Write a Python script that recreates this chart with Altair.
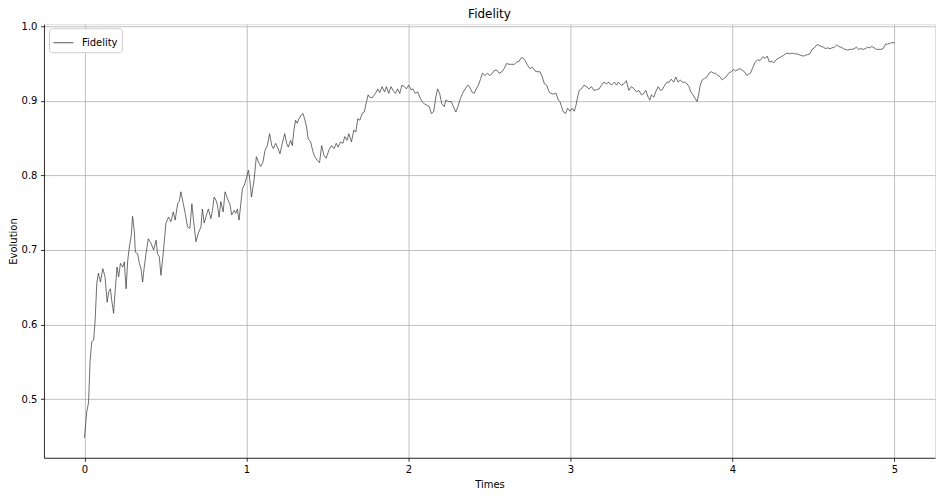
import altair as alt
import pandas as pd

times = [
    0.000, 0.014, 0.025, 0.035, 0.045, 0.057, 0.066, 0.076, 0.086, 0.099,
    0.113, 0.127, 0.140, 0.150, 0.160, 0.168, 0.180, 0.189, 0.201, 0.211,
    0.222, 0.236, 0.246, 0.257, 0.267, 0.277, 0.288, 0.297, 0.308, 0.314,
    0.328, 0.339, 0.349, 0.359, 0.369, 0.380, 0.394, 0.411, 0.427, 0.442,
    0.451, 0.462, 0.472, 0.486, 0.503, 0.519, 0.534, 0.548, 0.560, 0.575,
    0.585, 0.595, 0.610, 0.622, 0.636, 0.651, 0.663, 0.673, 0.688, 0.702,
    0.719, 0.728, 0.739, 0.753, 0.765, 0.780, 0.790, 0.800, 0.811, 0.821,
    0.831, 0.842, 0.856, 0.868, 0.882, 0.897, 0.909, 0.924, 0.934, 0.944,
    0.954, 0.965, 0.975, 0.987, 0.999, 1.012, 1.020, 1.031, 1.047, 1.061,
    1.078, 1.088, 1.102, 1.115, 1.129, 1.143, 1.156, 1.166, 1.180, 1.195,
    1.207, 1.221, 1.236, 1.248, 1.258, 1.273, 1.283, 1.293, 1.303, 1.313,
    1.324, 1.338, 1.349, 1.361, 1.371, 1.381, 1.396, 1.410, 1.422, 1.437,
    1.451, 1.464, 1.478, 1.492, 1.509, 1.525, 1.541, 1.554, 1.566, 1.581,
    1.595, 1.607, 1.621, 1.632, 1.648, 1.663, 1.675, 1.687, 1.700, 1.714,
    1.727, 1.738, 1.751, 1.765, 1.780, 1.796, 1.810, 1.823, 1.837, 1.852,
    1.864, 1.878, 1.892, 1.905, 1.919, 1.933, 1.946, 1.960, 1.975, 1.987,
    2.001, 2.015, 2.028, 2.042, 2.057, 2.069, 2.083, 2.098, 2.114, 2.129,
    2.141, 2.155, 2.169, 2.180, 2.192, 2.206, 2.221, 2.231, 2.248, 2.264,
    2.278, 2.292, 2.305, 2.320, 2.334, 2.350, 2.365, 2.377, 2.391, 2.406,
    2.418, 2.432, 2.446, 2.457, 2.473, 2.488, 2.500, 2.514, 2.531, 2.545,
    2.560, 2.576, 2.590, 2.606, 2.621, 2.637, 2.654, 2.668, 2.683, 2.693,
    2.705, 2.720, 2.734, 2.751, 2.765, 2.781, 2.796, 2.812, 2.826, 2.839,
    2.853, 2.868, 2.880, 2.894, 2.911, 2.925, 2.935, 2.945, 2.956, 2.970,
    2.982, 2.997, 3.011, 3.023, 3.034, 3.044, 3.054, 3.068, 3.083, 3.099,
    3.114, 3.130, 3.145, 3.161, 3.177, 3.191, 3.206, 3.222, 3.237, 3.253,
    3.270, 3.284, 3.294, 3.315, 3.331, 3.345, 3.360, 3.376, 3.393, 3.407,
    3.422, 3.438, 3.453, 3.465, 3.479, 3.490, 3.499, 3.514, 3.526, 3.541,
    3.555, 3.567, 3.582, 3.596, 3.608, 3.622, 3.637, 3.650, 3.664, 3.678,
    3.690, 3.705, 3.719, 3.732, 3.742, 3.756, 3.770, 3.781, 3.791, 3.801,
    3.813, 3.828, 3.842, 3.855, 3.869, 3.884, 3.896, 3.910, 3.924, 3.937,
    3.947, 3.961, 3.976, 3.992, 4.007, 4.019, 4.033, 4.047, 4.060, 4.074,
    4.089, 4.101, 4.111, 4.126, 4.140, 4.156, 4.170, 4.187, 4.201, 4.214,
    4.228, 4.243, 4.255, 4.269, 4.284, 4.300, 4.315, 4.327, 4.341, 4.355,
    4.368, 4.382, 4.397, 4.409, 4.423, 4.438, 4.450, 4.464, 4.478, 4.491,
    4.505, 4.520, 4.532, 4.546, 4.561, 4.573, 4.587, 4.602, 4.614, 4.629,
    4.643, 4.655, 4.669, 4.684, 4.696, 4.711, 4.725, 4.737, 4.751, 4.766,
    4.778, 4.792, 4.807, 4.820, 4.834, 4.848, 4.860, 4.875, 4.889, 4.901,
    4.916, 4.930, 4.945, 4.957, 4.971, 4.983, 5.000,
]

fidelity = [
    0.448, 0.483, 0.495, 0.552, 0.577, 0.579, 0.606, 0.655, 0.669, 0.657,
    0.675, 0.664, 0.630, 0.644, 0.648, 0.633, 0.615, 0.644, 0.677, 0.664,
    0.682, 0.677, 0.684, 0.648, 0.686, 0.704, 0.718, 0.745, 0.724, 0.697,
    0.695, 0.682, 0.675, 0.657, 0.677, 0.695, 0.715, 0.709, 0.700, 0.713,
    0.695, 0.691, 0.666, 0.695, 0.736, 0.744, 0.738, 0.751, 0.740, 0.762,
    0.765, 0.778, 0.762, 0.749, 0.731, 0.729, 0.762, 0.740, 0.711, 0.722,
    0.731, 0.755, 0.736, 0.747, 0.755, 0.742, 0.753, 0.771, 0.767, 0.760,
    0.744, 0.765, 0.751, 0.778, 0.769, 0.762, 0.747, 0.753, 0.749, 0.755,
    0.740, 0.762, 0.782, 0.787, 0.796, 0.807, 0.795, 0.771, 0.794, 0.825,
    0.816, 0.812, 0.818, 0.834, 0.840, 0.856, 0.840, 0.836, 0.843, 0.836,
    0.829, 0.843, 0.856, 0.843, 0.838, 0.847, 0.840, 0.861, 0.874, 0.870,
    0.876, 0.881, 0.883, 0.874, 0.865, 0.849, 0.845, 0.832, 0.825, 0.820,
    0.817, 0.840, 0.827, 0.823, 0.834, 0.840, 0.836, 0.843, 0.838, 0.845,
    0.843, 0.852, 0.847, 0.856, 0.845, 0.861, 0.858, 0.876, 0.874, 0.883,
    0.885, 0.896, 0.908, 0.904, 0.905, 0.910, 0.916, 0.911, 0.919, 0.912,
    0.919, 0.910, 0.919, 0.914, 0.910, 0.916, 0.910, 0.921, 0.919, 0.916,
    0.921, 0.915, 0.916, 0.910, 0.912, 0.905, 0.899, 0.896, 0.894, 0.892,
    0.883, 0.885, 0.905, 0.916, 0.910, 0.896, 0.892, 0.901, 0.899, 0.899,
    0.892, 0.885, 0.892, 0.903, 0.910, 0.916, 0.921, 0.919, 0.912, 0.910,
    0.916, 0.921, 0.930, 0.937, 0.934, 0.937, 0.934, 0.936, 0.941, 0.941,
    0.937, 0.939, 0.943, 0.950, 0.949, 0.949, 0.949, 0.952, 0.953, 0.957,
    0.958, 0.954, 0.948, 0.943, 0.945, 0.940, 0.939, 0.939, 0.932, 0.923,
    0.921, 0.912, 0.910, 0.909, 0.910, 0.901, 0.899, 0.892, 0.885, 0.883,
    0.890, 0.886, 0.890, 0.886, 0.894, 0.905, 0.914, 0.916, 0.921, 0.919,
    0.916, 0.919, 0.914, 0.915, 0.916, 0.921, 0.925, 0.923, 0.925, 0.921,
    0.925, 0.921, 0.925, 0.921, 0.923, 0.927, 0.914, 0.919, 0.916, 0.912,
    0.914, 0.908, 0.910, 0.914, 0.905, 0.901, 0.908, 0.905, 0.912, 0.919,
    0.914, 0.915, 0.921, 0.925, 0.925, 0.929, 0.925, 0.932, 0.925, 0.928,
    0.925, 0.925, 0.923, 0.919, 0.912, 0.908, 0.903, 0.899, 0.908, 0.921,
    0.928, 0.930, 0.932, 0.937, 0.939, 0.937, 0.937, 0.934, 0.932, 0.928,
    0.930, 0.932, 0.937, 0.939, 0.942, 0.940, 0.942, 0.943, 0.941, 0.939,
    0.934, 0.936, 0.937, 0.945, 0.952, 0.955, 0.954, 0.959, 0.957, 0.960,
    0.952, 0.953, 0.951, 0.955, 0.957, 0.959, 0.961, 0.963, 0.964, 0.963,
    0.964, 0.963, 0.963, 0.962, 0.961, 0.960, 0.961, 0.962, 0.963, 0.969,
    0.971, 0.975, 0.975, 0.973, 0.972, 0.970, 0.971, 0.970, 0.971, 0.972,
    0.975, 0.973, 0.972, 0.970, 0.969, 0.968, 0.969, 0.969, 0.970, 0.972,
    0.969, 0.970, 0.969, 0.970, 0.972, 0.971, 0.973, 0.971, 0.969, 0.969,
    0.969, 0.970, 0.976, 0.976, 0.977, 0.978, 0.978,
]

x_ticks = [0, 1, 2, 3, 4, 5]
y_ticks = [0.5, 0.6, 0.7, 0.8, 0.9, 1.0]
chart_title = "Fidelity"

df = pd.DataFrame({"t": times, "f": fidelity, "series": ["Fidelity"] * len(times)})

FONT = "DejaVu Sans"
W, H = 892, 434

line = alt.Chart(df).mark_line(strokeWidth=0.7, interpolate="linear").encode(
    x=alt.X(
        "t:Q",
        scale=alt.Scale(domain=[-0.25, 5.25], nice=False, zero=False),
        axis=alt.Axis(
            title="Times", values=x_ticks, format="d", grid=True,
            gridColor="#b0b0b0", gridWidth=0.8,
            domainColor="black", domainWidth=0.8,
            tickColor="black", tickSize=3.5, tickWidth=0.8,
            labelPadding=3.5, labelFontSize=10, labelColor="black", labelFont=FONT,
            titleFont=FONT, titleFontSize=10, titleFontWeight="normal",
            titleColor="black", titlePadding=5,
        ),
    ),
    y=alt.Y(
        "f:Q",
        scale=alt.Scale(domain=[0.4213, 1.0027], nice=False, zero=False),
        axis=alt.Axis(
            title="Evolution", values=y_ticks, format=".1f", grid=True,
            gridColor="#b0b0b0", gridWidth=0.8,
            domainColor="black", domainWidth=0.8,
            tickColor="black", tickSize=3.5, tickWidth=0.8,
            labelPadding=3.5, labelFontSize=10, labelColor="black", labelFont=FONT,
            titleFont=FONT, titleFontSize=10, titleFontWeight="normal",
            titleColor="black", titlePadding=3,
        ),
    ),
    color=alt.Color(
        "series:N",
        scale=alt.Scale(domain=["Fidelity"], range=["#303030"]),
        legend=alt.Legend(
            title=None, orient="none", legendX=5, legendY=4,
            symbolType="stroke", symbolSize=400, symbolStrokeWidth=0.8,
            labelFont=FONT, labelFontSize=10, labelColor="black", labelOffset=8,
            padding=4, fillColor="white", strokeColor="#cccccc", cornerRadius=3,
        ),
    ),
)

title_text = alt.Chart(pd.DataFrame({"label": [chart_title]})).mark_text(
    font=FONT, fontSize=12, color="black", align="center", baseline="alphabetic"
).encode(
    text="label:N",
    x=alt.value(W / 2),
    y=alt.value(-6),
)

chart = alt.layer(line, title_text).properties(
    width=W,
    height=H,
    autosize=alt.AutoSizeParams(type="none"),
    padding={"left": 36, "top": 16, "right": 1, "bottom": 38},
).configure_view(stroke="black", strokeWidth=0.8).configure(background="white")

chart.save("out.html", embed_options={"renderer": "svg", "actions": False})
